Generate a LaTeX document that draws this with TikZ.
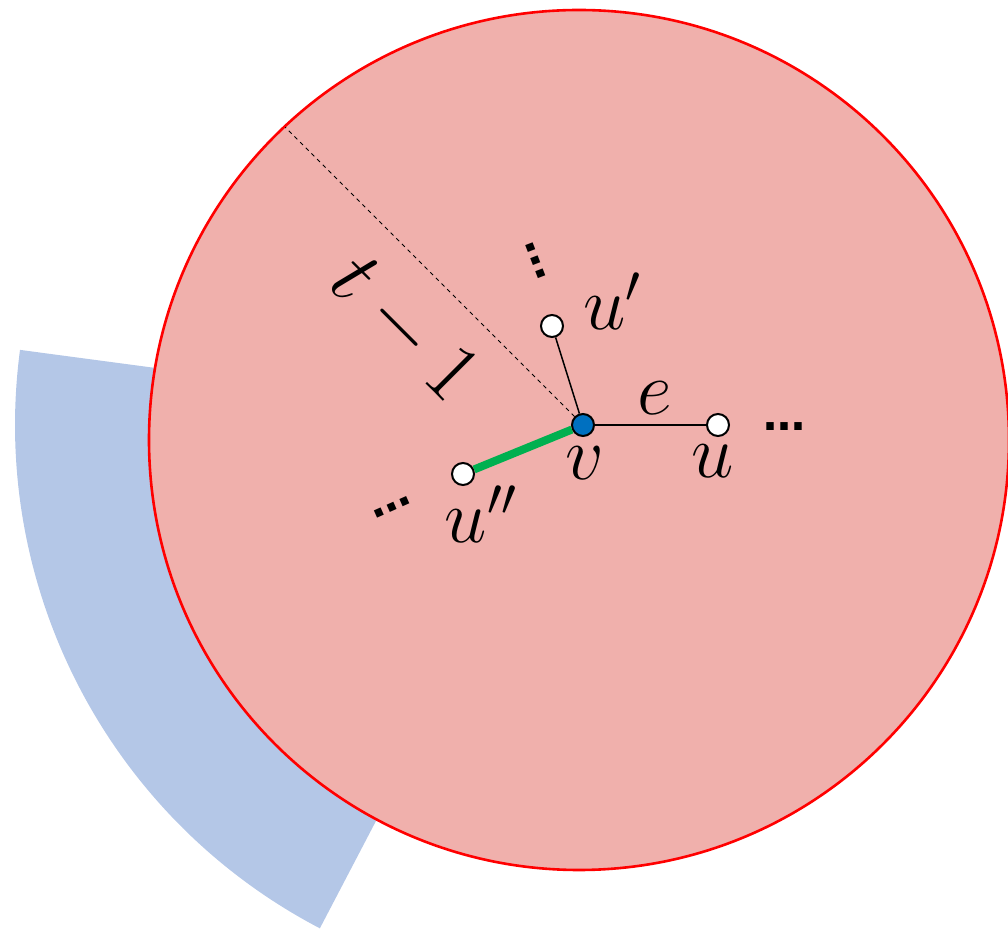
\RequirePackage{fix-cm}
\documentclass[tikz,border=0pt]{standalone}
\usepackage{fontspec}
\newfontfamily\dotfont{DejaVu Sans}
\usetikzlibrary{positioning}
\definecolor{diskfill}{RGB}{240,176,172}
\definecolor{bandblue}{RGB}{180,199,231}
\definecolor{vblue}{RGB}{0,112,192}
\definecolor{edgegreen}{RGB}{0,176,80}

\begin{document}
\begin{tikzpicture}[x=0.5pt,y=0.5pt,
  vtx/.style={circle,draw=black,line width=1pt,fill=white,minimum size=11pt,inner sep=0pt},
  lbl/.style={font=\fontsize{38}{44}\selectfont,inner sep=0pt},
  more/.style={font=\dotfont\bfseries\fontsize{21}{24}\selectfont,inner sep=0pt}]
  \useasboundingbox (0,0) rectangle (1008,932);
  \coordinate (vc) at (583,507);
  \coordinate (c) at (579,492);
  \fill[bandblue] (vc) -- ++(172.4:568) arc[start angle=172.4,end angle=242.4,radius=568] -- cycle;
  \draw[red,line width=1.3pt,fill=diskfill] (c) circle[radius=430];
  \node[vtx,fill=vblue] (v) at (vc) {};
  \foreach \name/\x/\y in {u/718/507,u1/552/606,u2/463/458}{
    \node[vtx] (\name) at (\x,\y) {};
  }
  \path (vc) ++(135:421) coordinate (rim);
  \draw[line width=0.5pt,dash pattern=on 2pt off 2pt] (v) -- (rim);
  \draw[line width=0.75pt] (v) -- (u);
  \draw[line width=0.75pt] (v) -- (u1);
  \draw[edgegreen,line width=4pt] (v) -- (u2);
  \node[lbl,anchor=base] (elbl) at (655,517) {$e$};
  \node[lbl,anchor=base] (vlbl) at (585,452) {$v$};
  \node[lbl,anchor=base] (ulbl) at (713,454) {$u$};
  \node[lbl,anchor=base] (u1lbl) at (612,602) {$u'$};
  \node[lbl,anchor=base] (u2lbl) at (481,389) {$u''$};
  \node[lbl,font=\fontsize{42}{48}\selectfont,rotate=-45] (rlbl) at (404,603) {$t-1$};
  \node[more] (udots) at (784,505) {…};
  \node[more,rotate=-69] (u1dots) at (536,671) {…};
  \node[more,rotate=24] (u2dots) at (392,425) {…};
\end{tikzpicture}
\end{document}
